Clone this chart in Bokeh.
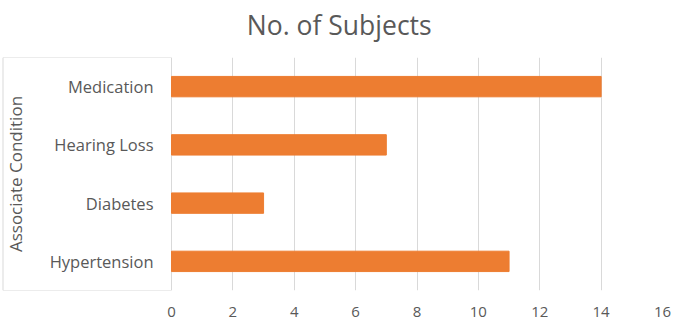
from bokeh.plotting import figure
from bokeh.models import FixedTicker, Range1d
from bokeh.layouts import column
from bokeh.core.properties import value
from bokeh.embed import file_html
from bokeh.resources import INLINE

categories = ["Hypertension", "Diabetes", "Hearing Loss", "Medication"]
subjects = [11, 3, 7, 14]
x_ticks = [0, 2, 4, 6, 8, 10, 12, 14, 16]
title_text = "No. of Subjects"
y_label = "Associate Condition"

FONT = "Open Sans"
TXT = "#595959"
GRID = "#D9D9D9"

W = 685
TITLE_H = 57

# --- title strip (pixel coordinates, y measured from the top) ---
t = figure(width=W, height=TITLE_H, x_range=Range1d(0, W), y_range=Range1d(TITLE_H, 0),
           output_backend="svg", toolbar_location=None,
           min_border_left=0, min_border_right=0, min_border_top=0, min_border_bottom=0)
t.axis.visible = False
t.grid.visible = False
t.outline_line_color = None
t.text(x=[350], y=[24], text=[title_text], text_align="center", text_baseline="alphabetic",
       text_font=value(FONT), text_font_size="26.5px", text_color=TXT)

# --- main chart ---
PX_PER_UNIT = 491 / 16.0
X_START = -170 / PX_PER_UNIT

p = figure(width=W, height=322 - TITLE_H, y_range=categories, x_range=(X_START, 16),
           output_backend="svg", toolbar_location=None,
           min_border_left=1, min_border_right=23, min_border_top=0, min_border_bottom=32)
p.outline_line_color = None
p.y_range.range_padding = 0

p.hbar(y=categories, right=subjects, left=0, height=0.35, color="#ED7D31")

p.xaxis.ticker = FixedTicker(ticks=x_ticks)
p.xaxis.axis_line_color = None
p.xaxis.major_tick_line_color = None
p.xaxis.minor_tick_line_color = None
p.xaxis.major_label_standoff = 10
p.xaxis.major_label_text_font = FONT
p.xaxis.major_label_text_font_size = "15px"
p.xaxis.major_label_text_color = TXT

p.yaxis.visible = False
p.xgrid.grid_line_color = GRID
p.ygrid.grid_line_color = None

# category labels and axis title inside the boxed area
label_x = -18 / PX_PER_UNIT
p.text(x=[label_x] * len(categories), y=categories, text=categories,
       text_align="right", text_baseline="middle", text_font=value(FONT),
       text_font_size="16.5px", text_color=TXT)
p.text(x=[-156 / PX_PER_UNIT], y=[("Diabetes", 0.5)], text=[y_label], angle=1.5707963,
       text_align="center", text_baseline="middle", text_font=value(FONT),
       text_font_size="17px", text_color=TXT)

# box around the category area
box_left = -168.5 / PX_PER_UNIT
p.line(x=[0, box_left, box_left, 0],
       y=[("Medication", 0.5), ("Medication", 0.5), ("Hypertension", -0.5), ("Hypertension", -0.5)],
       line_color=GRID, line_width=1)

layout = column(t, p, spacing=0)
open("out.html", "w").write(file_html(layout, INLINE))
